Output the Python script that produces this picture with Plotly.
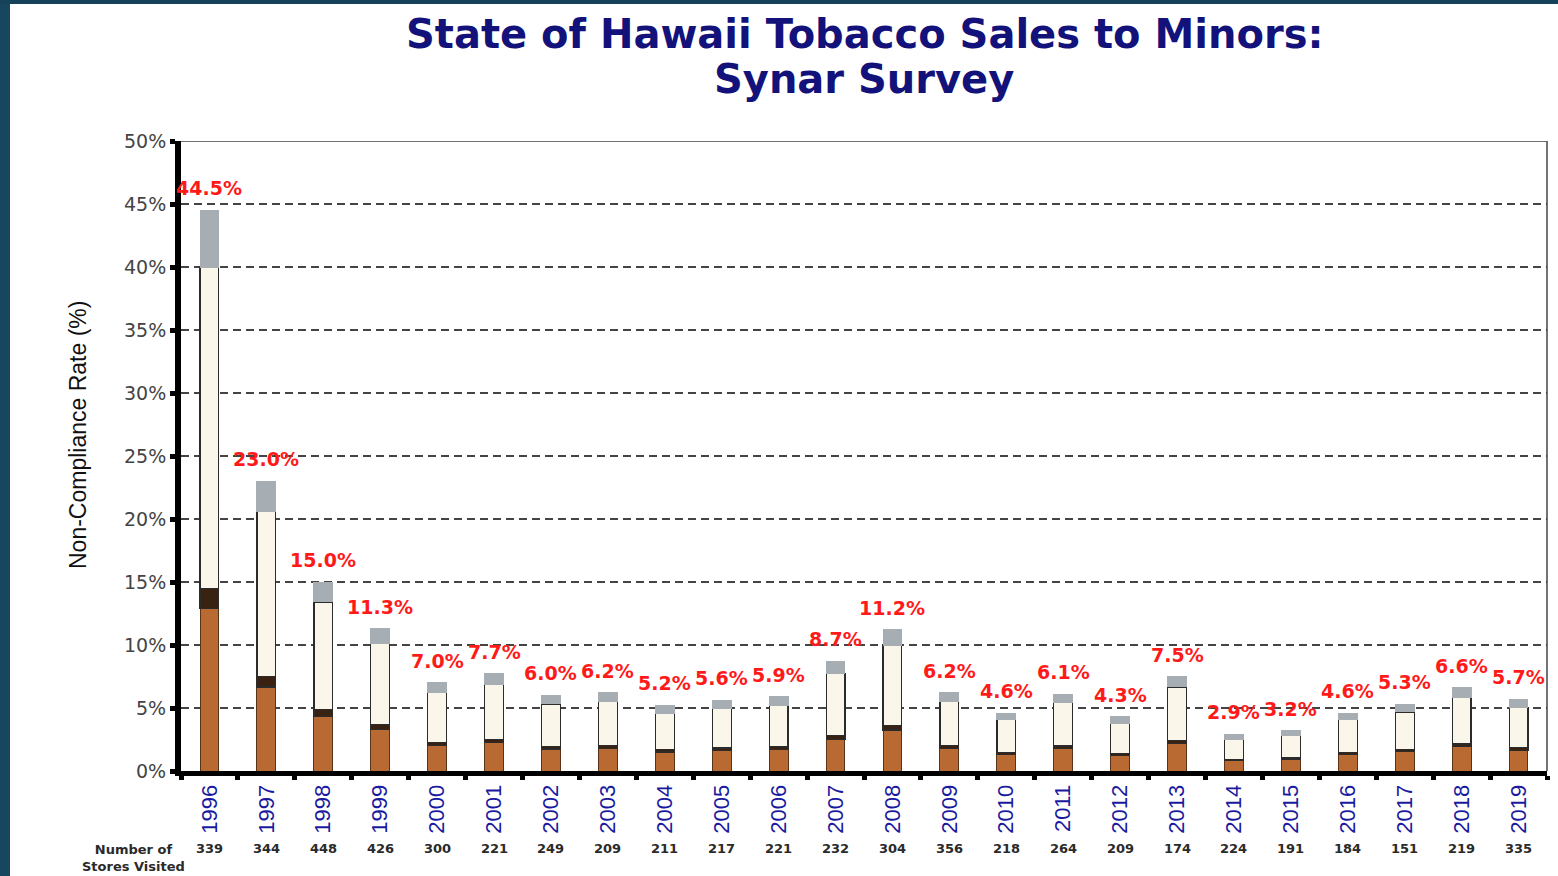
import plotly.graph_objects as go

years = [str(y) for y in range(1996, 2020)]
rates = [44.5, 23.0, 15.0, 11.3, 7.0, 7.7, 6.0, 6.2, 5.2, 5.6, 5.9, 8.7, 11.2,
         6.2, 4.6, 6.1, 4.3, 7.5, 2.9, 3.2, 4.6, 5.3, 6.6, 5.7]
stores = [339, 344, 448, 426, 300, 221, 249, 209, 211, 217, 221, 232, 304,
          356, 218, 264, 209, 174, 224, 191, 184, 151, 219, 335]

# cigarette-style decoration proportions (share of each bar's height)
FILTER_SHARE = 0.29
BAND_SHARE = 0.035
ASH_SHARE = 0.10

W, H = 1558, 876
L, R, T, B = 181, 11, 141, 105
PW, PH = W - L - R, H - T - B

def px_x(px):
    return (px - L) / PW

def px_y(py):
    return (H - B - py) / PH

filt = [v * FILTER_SHARE for v in rates]
band = [v * BAND_SHARE for v in rates]
ash = [v * ASH_SHARE + 0.08 for v in rates]
paper = [v - f - b - a for v, f, b, a in zip(rates, filt, band, ash)]

fig = go.Figure()
bw = 0.33
line = dict(color="#2b2b2b", width=1.2)
fig.add_trace(go.Bar(x=years, y=filt, width=bw, marker=dict(color="#b96a32", line=dict(color="#5a3418", width=1)), hoverinfo="skip"))
fig.add_trace(go.Bar(x=years, y=band, width=bw, marker=dict(color="#3a2212", line=line), hoverinfo="skip"))
fig.add_trace(go.Bar(x=years, y=paper, width=bw, marker=dict(color="#faf7ea", line=line), hoverinfo="skip"))
fig.add_trace(go.Bar(x=years, y=ash, width=bw, marker=dict(color="#a7aeb3", line=dict(color="#a7aeb3", width=1)), hoverinfo="skip"))

ann = []
for i, v in enumerate(rates):
    ann.append(dict(x=i, y=v, xref="x", yref="y", text=f"{v:.1f}%", showarrow=False,
                    xanchor="center", yanchor="middle", yshift=22,
                    font=dict(family="DejaVu Sans", size=19, color="#ff1a1a", weight="bold")))
for i, n in enumerate(stores):
    ann.append(dict(x=i, y=px_y(848), xref="x", yref="paper", text=str(n), showarrow=False,
                    xanchor="center", yanchor="middle",
                    font=dict(family="DejaVu Sans", size=13, color="#2a2a2a", weight="bold")))
ann.append(dict(x=px_x(133), y=px_y(858), xref="paper", yref="paper",
                xanchor="center", yanchor="middle",
                text="Number of<br>Stores Visited", showarrow=False, align="center",
                font=dict(family="DejaVu Sans", size=13, color="#2a2a2a", weight="bold")))
ann.append(dict(x=px_x(78), y=px_y(435), xref="paper", yref="paper", textangle=-90,
                xanchor="center", yanchor="middle",
                text="Non-Compliance Rate (%)", showarrow=False,
                font=dict(family="Liberation Sans", size=23, color="#111111")))
ann.append(dict(x=0.5, y=px_y(34), xref="paper", yref="paper", xanchor="center", yanchor="middle",
                text="State of Hawaii Tobacco Sales to Minors:", showarrow=False,
                font=dict(family="DejaVu Sans", size=40, color="#12127a", weight="bold")))
ann.append(dict(x=0.5, y=px_y(79), xref="paper", yref="paper", xanchor="center", yanchor="middle",
                text="Synar Survey", showarrow=False,
                font=dict(family="DejaVu Sans", size=40, color="#12127a", weight="bold")))

shapes = [
    dict(type="line", xref="paper", yref="y", x0=0, x1=1, y0=50, y1=50, line=dict(color="#444", width=1.5)),
    dict(type="line", xref="paper", yref="y", x0=1, x1=1, y0=0, y1=50, line=dict(color="#444", width=1.5)),
    dict(type="rect", xref="paper", yref="paper", x0=px_x(0), x1=px_x(10), y0=px_y(H), y1=px_y(0),
         fillcolor="#17475f", line=dict(width=0), layer="above"),
    dict(type="rect", xref="paper", yref="paper", x0=px_x(0), x1=px_x(W), y0=px_y(4), y1=px_y(0),
         fillcolor="#15425a", line=dict(width=0), layer="above"),
]

fig.update_layout(
    width=W, height=H, barmode="stack", showlegend=False,
    margin=dict(l=L, r=R, t=T, b=B),
    paper_bgcolor="white", plot_bgcolor="white",
    annotations=ann, shapes=shapes,
    xaxis=dict(type="category", range=[-0.5, 23.5], autorange=False, tickson="boundaries",
               ticks="outside", ticklen=4, tickwidth=5,
               tickcolor="black", showline=True, linecolor="black", linewidth=5,
               tickangle=-90, showgrid=False,
               tickfont=dict(family="Liberation Sans", size=22, color="#1a1aa0")),
    yaxis=dict(range=[0, 50], dtick=5, ticksuffix="%", ticks="outside", ticklen=5, tickwidth=5,
               tickcolor="black", showline=True, linecolor="black", linewidth=6,
               showgrid=True, gridcolor="#444", gridwidth=1.5, griddash="8px,5px",
               zeroline=False, ticklabelstandoff=0,
               tickfont=dict(family="DejaVu Sans", size=19, color="#444")),
)

fig.write_html("out.html", config={"displayModeBar": False},
               post_script="document.body.style.margin='0';")
